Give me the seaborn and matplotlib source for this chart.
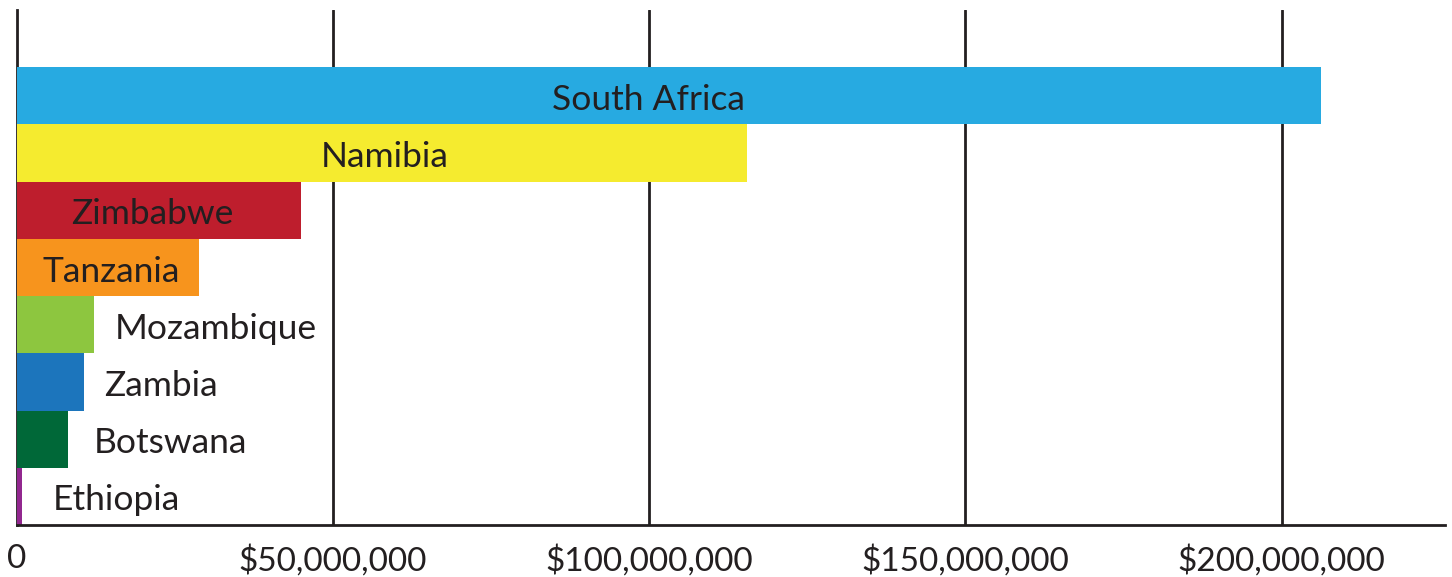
import matplotlib
matplotlib.use("Agg")
import matplotlib.pyplot as plt
import seaborn as sns
import pandas as pd
from matplotlib.ticker import FuncFormatter

countries = ["South Africa", "Namibia", "Zimbabwe", "Tanzania",
             "Mozambique", "Zambia", "Botswana", "Ethiopia"]
values = [206.2e6, 115.5e6, 44.9e6, 28.9e6, 12.2e6, 10.6e6, 8.2e6, 0.9e6]
colors = ["#27AAE1", "#F5EB2F", "#BE1E2D", "#F7941D",
          "#8DC63F", "#1C75BC", "#006838", "#92278F"]
tick_values = [0, 50e6, 100e6, 150e6, 200e6]

# label styling (not data)
inside = [True, True, True, True, False, False, False, False]
label_nudge_px = [-20, 3, -6, 3, 21, 21, 25, 31]

sns.set_theme(style="white")
plt.rcParams["font.family"] = ["Lato", "DejaVu Sans"]
ink = "#231F20"

df = pd.DataFrame({"country": countries, "value": values})

fig = plt.figure(figsize=(14.52, 5.77), dpi=100)
ax = fig.add_axes([16.5 / 1452, 52 / 577, (1445 - 16.5) / 1452, (525 - 10) / 577])

sns.barplot(data=df, x="value", y="country", hue="country", palette=colors,
            order=countries, hue_order=countries, legend=False,
            width=1.0, saturation=1.0, ax=ax, zorder=3)
for p in ax.patches:
    p.set_edgecolor("none")
    p.set_linewidth(0)

ax.set_xlim(0, 225.8e6)
ax.set_ylim(7.5, -1.5)

ax.set_xticks(tick_values)
ax.xaxis.set_major_formatter(FuncFormatter(lambda v, _: "0" if v == 0 else f"${v:,.0f}"))
ax.tick_params(axis="x", length=0, pad=14, labelsize=24, labelcolor=ink)
ax.set_yticks([])
ax.set_xlabel("")
ax.set_ylabel("")

for t in tick_values[1:]:
    ax.axvline(t, color=ink, lw=2.0, zorder=1)

for s in ["top", "right"]:
    ax.spines[s].set_visible(False)
for s in ["left", "bottom"]:
    ax.spines[s].set_color(ink)
    ax.spines[s].set_linewidth(2.0)
ax.spines["left"].set_zorder(2)
ax.spines["bottom"].set_zorder(4)

px = 225.8e6 / (1445 - 16.5)
dy = 0.07
for i, (c, v) in enumerate(zip(countries, values)):
    if inside[i]:
        ax.text(v / 2 + label_nudge_px[i] * px, i + dy, c, ha="center", va="center",
                fontsize=25.5, color=ink, zorder=5)
    else:
        ax.text(v + label_nudge_px[i] * px, i + dy, c, ha="left", va="center",
                fontsize=25.5, color=ink, zorder=5)

fig.savefig("out.png", dpi=100, facecolor="white")
